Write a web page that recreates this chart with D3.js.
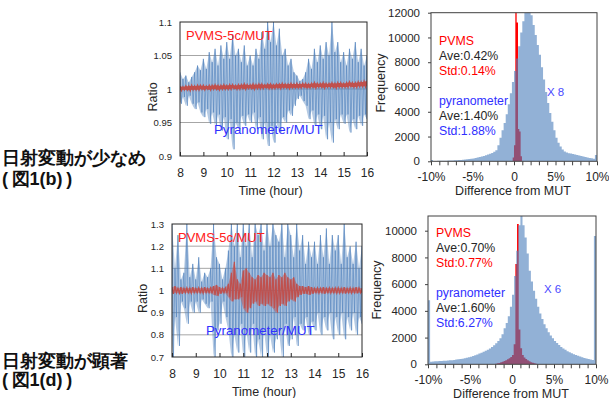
<!DOCTYPE html>
<html>
<head>
<meta charset="utf-8">
<script src="https://cdnjs.cloudflare.com/ajax/libs/d3/7.8.5/d3.min.js"></script>
<style>
  body { margin: 0; background: #fff; }
  svg text { font-family: "Liberation Sans", Arial, sans-serif; }
</style>
</head>
<body>
<svg id="chart" width="609" height="398"></svg>
<script>
// ---- time series (ratio to MUT), sampled every 0.125 h from 8:00 ----
const tsStartHour = 8
const tsStep = 0.125
const hourTicks = [8, 9, 10, 11, 12, 13, 14, 15, 16]

// panel (b): small fluctuation
const pyranoHiB = [
  1.025, 1.015, 1.020, 1.010, 1.018, 1.025, 1.035, 1.028,
  1.045, 1.030, 1.055, 1.040, 1.060, 1.035, 1.065, 1.045,
  1.070, 1.045, 1.082, 1.050, 1.060, 1.040, 1.065, 1.035,
  1.050, 1.035, 1.060, 1.045, 1.085, 1.060, 1.100, 1.070,
  1.100, 1.065, 1.090, 1.050, 1.060, 1.035, 1.045, 1.025,
  1.020, 1.012, 1.015, 1.025, 1.045, 1.030, 1.060, 1.040,
  1.065, 1.045, 1.070, 1.050, 1.100, 1.055, 1.070, 1.040,
  1.055, 1.035, 1.060, 1.045, 1.070, 1.040, 1.060, 1.035,
  1.050
]
const pyranoLoB = [
  0.978, 0.988, 0.975, 0.990, 0.978, 0.970, 0.980, 0.965,
  0.958, 0.970, 0.948, 0.965, 0.945, 0.962, 0.938, 0.958,
  0.925, 0.955, 0.910, 0.950, 0.940, 0.960, 0.945, 0.962,
  0.950, 0.965, 0.940, 0.958, 0.925, 0.950, 0.915, 0.945,
  0.920, 0.950, 0.935, 0.958, 0.950, 0.968, 0.960, 0.975,
  0.985, 0.990, 0.982, 0.975, 0.955, 0.968, 0.945, 0.962,
  0.940, 0.960, 0.925, 0.950, 0.920, 0.955, 0.940, 0.962,
  0.948, 0.962, 0.935, 0.955, 0.940, 0.960, 0.945, 0.962,
  0.955
]
const pvmsHiB = [
  1.004, 1.003, 1.004, 1.004, 1.005, 1.004, 1.005, 1.005,
  1.005, 1.004, 1.005, 1.005, 1.006, 1.005, 1.005, 1.006,
  1.005, 1.006, 1.006, 1.005, 1.006, 1.006, 1.007, 1.006,
  1.006, 1.007, 1.006, 1.007, 1.007, 1.006, 1.007, 1.007,
  1.006, 1.007, 1.007, 1.008, 1.007, 1.007, 1.008, 1.007,
  1.008, 1.007, 1.008, 1.008, 1.007, 1.008, 1.009, 1.008,
  1.008, 1.009, 1.008, 1.008, 1.009, 1.008, 1.009, 1.009,
  1.008, 1.009, 1.010, 1.009, 1.009, 1.010, 1.010, 1.011,
  1.012
]
const pvmsLoB = [
  0.998, 0.999, 0.999, 0.998, 0.999, 0.999, 0.999, 1.000,
  0.999, 1.000, 0.999, 1.000, 1.000, 0.999, 1.000, 1.000,
  1.000, 1.000, 1.001, 1.000, 1.000, 1.001, 1.000, 1.001,
  1.001, 1.000, 1.001, 1.001, 1.001, 1.002, 1.001, 1.001,
  1.001, 1.002, 1.001, 1.002, 1.002, 1.001, 1.002, 1.002,
  1.002, 1.002, 1.003, 1.002, 1.002, 1.003, 1.002, 1.003,
  1.003, 1.002, 1.003, 1.003, 1.003, 1.002, 1.003, 1.003,
  1.003, 1.003, 1.004, 1.003, 1.003, 1.004, 1.004, 1.004,
  1.005
]

// panel (d): large fluctuation
const pyranoHiD = [
  1.30, 1.10, 1.25, 1.05, 1.08, 1.30, 1.06, 1.12,
  1.05, 1.15, 1.04, 1.08, 1.06, 1.10, 1.30, 1.15,
  1.12, 1.05, 1.10, 1.18, 1.30, 1.20, 1.30, 1.15,
  1.30, 1.20, 1.30, 1.15, 1.30, 1.25, 1.30, 1.18,
  1.30, 1.20, 1.30, 1.25, 1.22, 1.30, 1.15, 1.30,
  1.25, 1.15, 1.30, 1.18, 1.25, 1.12, 1.22, 1.15,
  1.22, 1.12, 1.25, 1.15, 1.28, 1.12, 1.25, 1.18,
  1.25, 1.12, 1.30, 1.15, 1.20, 1.12, 1.22, 1.10,
  1.20
]
const pyranoLoD = [
  0.70, 0.88, 0.75, 0.95, 0.92, 0.85, 0.95, 0.90,
  0.95, 0.90, 0.96, 0.94, 0.92, 0.95, 0.70, 0.82,
  0.85, 0.95, 0.88, 0.82, 0.70, 0.80, 0.72, 0.85,
  0.70, 0.82, 0.72, 0.85, 0.70, 0.78, 0.70, 0.82,
  0.70, 0.80, 0.72, 0.78, 0.82, 0.70, 0.85, 0.75,
  0.78, 0.88, 0.75, 0.85, 0.82, 0.88, 0.80, 0.86,
  0.82, 0.90, 0.80, 0.88, 0.82, 0.90, 0.78, 0.88,
  0.80, 0.90, 0.78, 0.88, 0.82, 0.90, 0.80, 0.88,
  0.85
]
const pvmsHiD = [
  1.015, 1.020, 1.010, 1.015, 1.010, 1.012, 1.010, 1.015,
  1.010, 1.012, 1.010, 1.015, 1.010, 1.012, 1.020, 1.025,
  1.015, 1.010, 1.012, 1.030, 1.080, 1.130, 1.050, 1.030,
  1.090, 1.100, 1.080, 1.060, 1.050, 1.070, 1.060, 1.080,
  1.070, 1.060, 1.080, 1.050, 1.070, 1.060, 1.080, 1.060,
  1.050, 1.060, 1.030, 1.020, 1.020, 1.015, 1.020, 1.015,
  1.010, 1.012, 1.010, 1.015, 1.010, 1.012, 1.010, 1.012,
  1.012, 1.010, 1.015, 1.010, 1.012, 1.010, 1.015, 1.012,
  1.010
]
const pvmsLoD = [
  0.985, 0.990, 0.988, 0.985, 0.990, 0.990, 0.988, 0.990,
  0.990, 0.990, 0.988, 0.990, 0.990, 0.988, 0.980, 0.975,
  0.985, 0.990, 0.988, 0.970, 0.950, 0.960, 0.960, 0.970,
  0.920, 0.900, 0.920, 0.940, 0.950, 0.930, 0.940, 0.930,
  0.940, 0.930, 0.920, 0.900, 0.930, 0.940, 0.930, 0.950,
  0.960, 0.950, 0.970, 0.980, 0.985, 0.985, 0.980, 0.985,
  0.990, 0.988, 0.990, 0.985, 0.990, 0.988, 0.990, 0.988,
  0.988, 0.990, 0.986, 0.990, 0.988, 0.990, 0.987, 0.990,
  0.990
]

// ---- histograms of difference from MUT (%) ----
const pyranoBinStart = -10
const pyranoBinWidth = 0.25
// (b) pyranometer counts (x8 scaled), 80 bins from -10% to 10%
const pyranoCountsB = [
  100, 30, 30, 40, 40, 40, 50, 50, 60, 60, 70, 80, 90, 100, 110, 120,
  140, 160, 180, 200,
  230, 260, 300, 340,
  380, 430, 480, 540,
  600, 680, 780, 900,
  1300, 1900, 2500, 3100,
  3800, 4600, 5500, 6400,
  7300, 8300, 9300, 10400,
  11300, 12000, 12500, 12300,
  11800, 11000, 10200, 9400,
  8600, 7600, 6600, 5600,
  4700, 3900, 3200, 2500,
  1900, 1500, 1200, 950,
  800, 720, 660, 620,
  580, 540, 500, 460,
  420, 380, 340, 300,
  270, 240, 210, 500
]
// (d) pyranometer counts (x6 scaled)
const pyranoCountsD = [
  4800, 200, 210, 220, 230, 240, 250, 260,
  270, 280, 300, 310, 330, 350, 370, 390,
  420, 450, 490, 530,
  570, 620, 680, 740,
  800, 870, 940, 1010,
  1080, 1180, 1300, 1430,
  1570, 1750, 1950, 2250,
  2700, 3100, 3600, 4300,
  5200, 6600, 8500, 10400,
  11500, 10400, 9500, 8300,
  7000, 6200, 5500, 4900,
  4300, 3800, 3400, 3000,
  2700, 2400, 2150, 1950,
  1750, 1600, 1450, 1300,
  1180, 1080, 980, 900,
  820, 760, 700, 640,
  580, 530, 480, 440,
  400, 360, 330, 9600
]
// PVMS counts
const pvmsBinStartB = -0.16
const pvmsBinWidthB = 0.16
const pvmsCountsB = [300, 1300, 12500, 11200, 2600, 2400, 400]
const pvmsBinStartD = -2.0
const pvmsBinWidthD = 0.2
const pvmsCountsD = [
  50, 80, 100, 150, 200, 250, 300, 380, 450, 550,
  700, 1500, 7500, 10500, 2600, 1200, 700, 500, 400, 300,
  220, 160, 110, 80, 50
]
const pctTicks = [-10, -9, -8, -7, -6, -5, -4, -3, -2, -1, 0, 1, 2, 3, 4, 5, 6, 7, 8, 9, 10]
const pctLabels = { "-10": "-10%", "-5": "-5%", "0": "0", "5": "5%", "10": "10%" }

const svg = d3.select("#chart")
const blue = "#4f81bd"
const pvmsLineColor = "#c0504d"

function drawSeriesPanel(cfg) {
  const x = d3.scaleLinear().domain([8, 16]).range([cfg.left, cfg.right])
  const y = d3.scaleLinear().domain(cfg.yDomain).range([cfg.bottom, cfg.top])
  const g = svg.append("g")

  g.append("clipPath").attr("id", cfg.id + "-clip")
    .append("rect")
      .attr("x", cfg.left).attr("y", cfg.top)
      .attr("width", cfg.right - cfg.left).attr("height", cfg.bottom - cfg.top)

  g.append("g").selectAll("line")
    .data(cfg.grid)
    .join("line")
      .attr("x1", cfg.left).attr("x2", cfg.right)
      .attr("y1", d => y(d)).attr("y2", d => y(d))
      .attr("stroke", "#a6a6a6").attr("stroke-width", 1)

  const hour = i => tsStartHour + i * tsStep
  const zigzag = (hi, lo) => {
    const pts = []
    hi.forEach((h, i) => {
      pts.push([hour(i), h])
      pts.push([i < hi.length - 1 ? hour(i) + tsStep / 2 : hour(i), lo[i]])
    })
    return pts
  }
  const band = d3.area()
    .x((d, i) => x(hour(i)))
    .y0(d => y(d[1]))
    .y1(d => y(d[0]))
  const line = d3.line().x(d => x(d[0])).y(d => y(d[1]))
  const plot = g.append("g").attr("clip-path", `url(#${cfg.id}-clip)`)

  // pyranometer: envelope band plus hi/lo trace
  plot.append("path")
    .attr("d", band(d3.zip(cfg.pyranoHi, cfg.pyranoLo)))
    .attr("fill", blue).attr("fill-opacity", 0.42)
  plot.append("path")
    .attr("d", line(zigzag(cfg.pyranoHi, cfg.pyranoLo)))
    .attr("fill", "none").attr("stroke", blue)
    .attr("stroke-width", 1).attr("stroke-opacity", 0.6)

  // PVMS
  plot.append("path")
    .attr("d", band(d3.zip(cfg.pvmsHi, cfg.pvmsLo)))
    .attr("fill", pvmsLineColor).attr("fill-opacity", cfg.pvmsFill)
  plot.append("path")
    .attr("d", line(zigzag(cfg.pvmsHi, cfg.pvmsLo)))
    .attr("fill", "none").attr("stroke", pvmsLineColor)
    .attr("stroke-width", cfg.pvmsWidth)

  g.append("rect")
    .attr("x", cfg.left).attr("y", cfg.top)
    .attr("width", cfg.right - cfg.left).attr("height", cfg.bottom - cfg.top)
    .attr("fill", "none").attr("stroke", "#262626").attr("stroke-width", 1)

  const yAxis = g.append("g")
    .attr("transform", `translate(${cfg.left},0)`)
    .call(d3.axisLeft(y).tickValues(cfg.yTicks).tickFormat((d, i) => cfg.yLabels[i]).tickSize(0).tickPadding(8))
  yAxis.select(".domain").remove()
  yAxis.selectAll("text").attr("font-size", 9.5).attr("fill", "#262626")

  const xAxis = g.append("g")
    .attr("transform", `translate(0,${cfg.bottom})`)
    .call(d3.axisBottom(x).tickValues(hourTicks).tickFormat(d3.format("d")).tickSizeInner(-4).tickSizeOuter(0).tickPadding(12))
  xAxis.select(".domain").remove()
  xAxis.selectAll("line").attr("stroke", "#262626")
  xAxis.selectAll("text").attr("font-size", 12).attr("fill", "#262626")

  g.append("text")
    .attr("x", (cfg.left + cfg.right) / 2 - 3).attr("y", cfg.bottom + 39)
    .attr("text-anchor", "middle").attr("font-size", 12.5).attr("fill", "#262626")
    .text("Time (hour)")
  g.append("text")
    .attr("transform", `translate(${cfg.ratioX},${(cfg.top + cfg.bottom) / 2 + 8}) rotate(-90)`)
    .attr("text-anchor", "middle").attr("font-size", 12.5).attr("fill", "#262626")
    .text("Ratio")

  g.append("text")
    .attr("x", cfg.left + 6).attr("y", cfg.top + 18)
    .attr("font-size", 13).attr("fill", "#ff2020")
    .text("PVMS-5c/MUT")
  g.append("text")
    .attr("x", cfg.left + 34).attr("y", cfg.bottom - 22.5)
    .attr("font-size", 13.3).attr("fill", "#3030ff")
    .text("Pyranometer/MUT")
}

function drawHistPanel(cfg) {
  const x = d3.scaleLinear().domain([-10, 10]).range([cfg.left, cfg.right])
  const y = d3.scaleLinear().domain([0, cfg.yMax]).range([cfg.bottom, cfg.top])
  const g = svg.append("g")

  g.append("clipPath").attr("id", cfg.id + "-clip")
    .append("rect")
      .attr("x", cfg.left).attr("y", cfg.top)
      .attr("width", cfg.right - cfg.left).attr("height", cfg.bottom - cfg.top)

  const steps = (start, width, counts) => {
    const pts = []
    counts.forEach((c, i) => {
      pts.push([start + i * width, c])
      pts.push([start + (i + 1) * width, c])
    })
    return pts
  }
  const area = d3.area().x(d => x(d[0])).y0(y(0)).y1(d => y(d[1]))
  const plot = g.append("g").attr("clip-path", `url(#${cfg.id}-clip)`)

  plot.append("path")
    .attr("d", area(steps(cfg.pvmsStart, cfg.pvmsWidth, cfg.pvmsCounts)))
    .attr("fill", "#ff0000")
  plot.append("path")
    .attr("d", area(steps(pyranoBinStart, pyranoBinWidth, cfg.pyranoCounts)))
    .attr("fill", blue).attr("fill-opacity", 0.62)

  g.append("rect")
    .attr("x", cfg.left).attr("y", cfg.top)
    .attr("width", cfg.right - cfg.left).attr("height", cfg.bottom - cfg.top)
    .attr("fill", "none").attr("stroke", "#404040").attr("stroke-width", 1)

  const yAxis = g.append("g")
    .attr("transform", `translate(${cfg.left},0)`)
    .call(d3.axisLeft(y).tickValues(cfg.yTicks).tickFormat(d3.format("d")).tickSize(3).tickPadding(8))
  yAxis.select(".domain").remove()
  yAxis.selectAll("line").attr("stroke", "#404040")
  yAxis.selectAll("text").attr("font-size", 11.5).attr("fill", "#262626")

  const xAxis = g.append("g")
    .attr("transform", `translate(0,${cfg.bottom})`)
    .call(d3.axisBottom(x).tickValues(pctTicks).tickFormat(d => pctLabels[d] || "").tickSizeInner(4).tickSizeOuter(0).tickPadding(7))
  xAxis.select(".domain").remove()
  xAxis.selectAll("line").attr("stroke", "#404040")
  xAxis.selectAll("text").attr("font-size", 12).attr("fill", "#262626")

  g.append("text")
    .attr("x", (cfg.left + cfg.right) / 2 - 1).attr("y", cfg.bottom + 34)
    .attr("text-anchor", "middle").attr("font-size", 12.5).attr("fill", "#262626")
    .text("Difference from MUT")
  g.append("text")
    .attr("transform", `translate(${cfg.freqX},${cfg.freqY}) rotate(-90)`)
    .attr("text-anchor", "middle").attr("font-size", 12.5).attr("fill", "#262626")
    .text("Frequency")

  const notes = [
    { text: "PVMS", color: "#ff0000", dy: 0 },
    { text: cfg.pvmsAve, color: "#262626", dy: 15 },
    { text: cfg.pvmsStd, color: "#ff0000", dy: 30 },
    { text: "pyranometer", color: "#3030ff", dy: 60 },
    { text: cfg.pyranoAve, color: "#262626", dy: 75 },
    { text: cfg.pyranoStd, color: "#3030ff", dy: 90 }
  ]
  g.append("g").selectAll("text")
    .data(notes)
    .join("text")
      .attr("x", cfg.left + 8).attr("y", d => cfg.noteTop + d.dy)
      .attr("font-size", 12.3).attr("fill", d => d.color)
      .text(d => d.text)
  g.append("text")
    .attr("x", cfg.scaleX).attr("y", cfg.scaleY)
    .attr("font-size", 11.5).attr("fill", "#4a4aff")
    .text(cfg.scaleText)
}

drawSeriesPanel({
  id: "tsb", left: 180, right: 367, top: 22, bottom: 156,
  yDomain: [0.9, 1.1], yTicks: [0.9, 0.95, 1, 1.05, 1.1],
  yLabels: ["0.9", "0.95", "1", "1.05", "1.1"], grid: [0.95, 1, 1.05],
  pyranoHi: pyranoHiB, pyranoLo: pyranoLoB, pvmsHi: pvmsHiB, pvmsLo: pvmsLoB,
  pvmsWidth: 1.6, pvmsFill: 1, ratioX: 157
})
drawSeriesPanel({
  id: "tsd", left: 172, right: 362, top: 224, bottom: 357,
  yDomain: [0.7, 1.3], yTicks: [0.7, 0.8, 0.9, 1, 1.1, 1.2, 1.3],
  yLabels: ["0.7", "0.8", "0.9", "1", "1.1", "1.2", "1.3"], grid: [0.8, 0.9, 1, 1.1, 1.2],
  pyranoHi: pyranoHiD, pyranoLo: pyranoLoD, pvmsHi: pvmsHiD, pvmsLo: pvmsLoD,
  pvmsWidth: 1.2, pvmsFill: 0.5, ratioX: 147
})
drawHistPanel({
  id: "hb", left: 431, right: 597, top: 12.7, bottom: 161.3,
  yMax: 12000, yTicks: [0, 2000, 4000, 6000, 8000, 10000, 12000],
  pyranoCounts: pyranoCountsB,
  pvmsStart: pvmsBinStartB, pvmsWidth: pvmsBinWidthB, pvmsCounts: pvmsCountsB,
  pvmsAve: "Ave:0.42%", pvmsStd: "Std:0.14%", pyranoAve: "Ave:1.40%", pyranoStd: "Std:1.88%",
  noteTop: 45, scaleText: "X 8", scaleX: 547, scaleY: 96, freqX: 384.5, freqY: 83
})
drawHistPanel({
  id: "hd", left: 428, right: 596, top: 216, bottom: 364.3,
  yMax: 11100, yTicks: [0, 2000, 4000, 6000, 8000, 10000],
  pyranoCounts: pyranoCountsD,
  pvmsStart: pvmsBinStartD, pvmsWidth: pvmsBinWidthD, pvmsCounts: pvmsCountsD,
  pvmsAve: "Ave:0.70%", pvmsStd: "Std:0.77%", pyranoAve: "Ave:1.60%", pyranoStd: "Std:6.27%",
  noteTop: 236.5, scaleText: "X 6", scaleX: 544, scaleY: 293, freqX: 380.5, freqY: 290
})

// case labels on the left
const caseLabels = [
  { text: "日射変動が少なめ", y: 164 },
  { text: "(\u2009図1(b)\u2009)", y: 185 },
  { text: "日射変動が顕著", y: 367 },
  { text: "(\u2009図1(d)\u2009)", y: 386 }
]
svg.append("g").selectAll("text")
  .data(caseLabels)
  .join("text")
    .attr("x", 2)
    .attr("y", d => d.y)
    .attr("font-family", "'Noto Sans CJK JP', sans-serif")
    .attr("font-weight", "bold").attr("font-size", 18).attr("fill", "#111")
    .text(d => d.text)
</script>
</body>
</html>
